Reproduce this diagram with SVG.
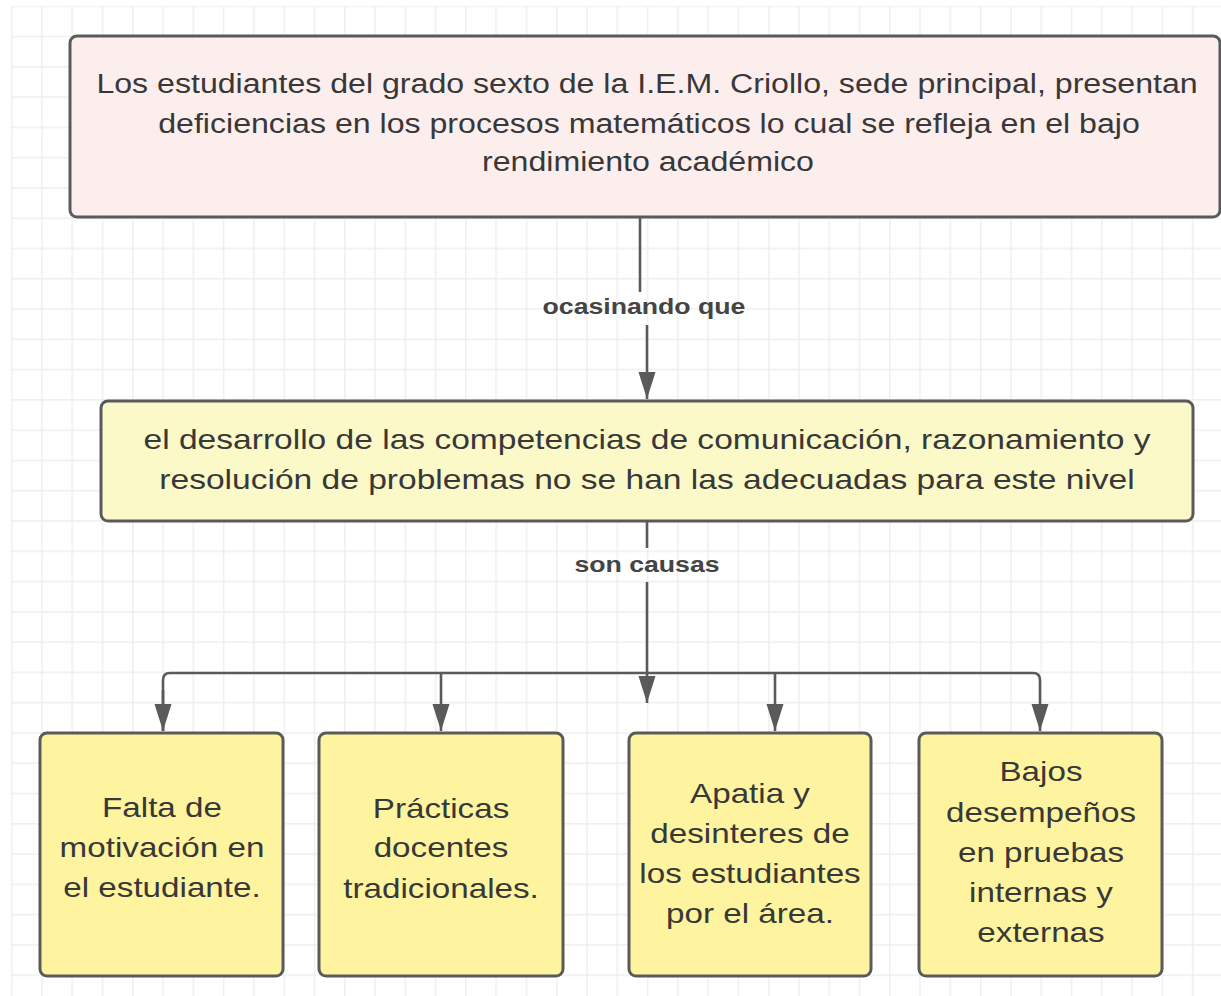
<svg xmlns="http://www.w3.org/2000/svg" width="1221" height="996" viewBox="0 0 1221 996">
  <style>
    .box { stroke: #5a5a5a; stroke-width: 3; }
    .top { fill: #fdeeee; }
    .mid { fill: #fbf9c8; }
    .leaf { fill: #fef49f; }
    .t { font-family: "Liberation Sans", Arial, sans-serif; fill: #383838; text-anchor: middle; }
    .t27 { font-size: 27px; }
    .t28 { font-size: 28.2px; }
    .tb { font-size: 27.9px; }
    .lbl { font-family: "Liberation Sans", Arial, sans-serif; font-weight: bold; font-size: 22.4px; fill: #444; text-anchor: middle; }
    .conn { fill: none; stroke: #5a5a5a; stroke-width: 2.6; }
  </style>
  <defs>
    <pattern id="grid" x="10.9" y="5.4" width="30.28" height="30.28" patternUnits="userSpaceOnUse">
      <path d="M 0.8 0 V 30.28 M 0 0.8 H 30.28" stroke="#ececec" stroke-width="1.3" fill="none"/>
    </pattern>
    <marker id="arrow" markerUnits="userSpaceOnUse" markerWidth="28" markerHeight="18" refX="27" refY="8.5" orient="auto">
      <path d="M 0 0 L 27 8.5 L 0 17 Z" fill="#5a5a5a"/>
    </marker>
  </defs>

  <rect x="0" y="0" width="1221" height="996" fill="#ffffff"/>
  <rect x="11" y="6" width="1210" height="990" fill="url(#grid)"/>

  <g id="connectors">
    <line class="conn" x1="640" y1="218" x2="640" y2="292"/>
    <line class="conn" x1="647" y1="325" x2="647" y2="399" marker-end="url(#arrow)"/>
    <text class="lbl" transform="translate(644 0) scale(1.19 1)" x="0" y="314">ocasinando que</text>

    <line class="conn" x1="647" y1="522" x2="647" y2="548"/>
    <text class="lbl" transform="translate(647 0) scale(1.19 1)" x="0" y="572">son causas</text>
    <line class="conn" x1="647" y1="582" x2="647" y2="703" marker-end="url(#arrow)"/>

    <path class="conn" d="M 163 731 V 680 Q 163 673 170 673 H 1033 Q 1040 673 1040 680 V 731" marker-end="url(#arrow)"/>
    <line class="conn" x1="163" y1="690" x2="163" y2="731" marker-end="url(#arrow)"/>
    <line class="conn" x1="441" y1="673" x2="441" y2="731" marker-end="url(#arrow)"/>
    <line class="conn" x1="775" y1="673" x2="775" y2="731" marker-end="url(#arrow)"/>
  </g>

  <g id="problema">
    <rect class="box top" x="70" y="36" width="1150" height="181" rx="7"/>
    <g class="t t27">
      <text transform="translate(647 0) scale(1.19 1)" x="0" y="93">Los estudiantes del grado sexto de la I.E.M. Criollo, sede principal, presentan</text>
      <text transform="translate(649 0) scale(1.19 1)" x="0" y="133">deficiencias en los procesos matemáticos lo cual se refleja en el bajo</text>
      <text transform="translate(648 0) scale(1.19 1)" x="0" y="171">rendimiento académico</text>
    </g>
  </g>

  <g id="desarrollo">
    <rect class="box mid" x="101" y="401" width="1092" height="120" rx="7"/>
    <g class="t t28">
      <text transform="translate(647 0) scale(1.19 1)" x="0" y="449">el desarrollo de las competencias de comunicación, razonamiento y</text>
      <text transform="translate(647 0) scale(1.19 1)" x="0" y="489">resolución de problemas no se han las adecuadas para este nivel</text>
    </g>
  </g>

  <g id="causa1">
    <rect class="box leaf" x="40" y="733" width="243" height="243" rx="7"/>
    <g class="t tb" transform="translate(162 0) scale(1.19 1)">
      <text x="0" y="817">Falta de</text>
      <text x="0" y="857">motivación en</text>
      <text x="0" y="897">el estudiante.</text>
    </g>
  </g>

  <g id="causa2">
    <rect class="box leaf" x="319" y="733" width="244" height="243" rx="7"/>
    <g class="t tb" transform="translate(441 0) scale(1.19 1)">
      <text x="0" y="818">Prácticas</text>
      <text x="0" y="857">docentes</text>
      <text x="0" y="898">tradicionales.</text>
    </g>
  </g>

  <g id="causa3">
    <rect class="box leaf" x="629" y="733" width="242" height="243" rx="7"/>
    <g class="t tb" transform="translate(750 0) scale(1.19 1)">
      <text x="0" y="803">Apatia y</text>
      <text x="0" y="843">desinteres de</text>
      <text x="0" y="883">los estudiantes</text>
      <text x="0" y="923">por el área.</text>
    </g>
  </g>

  <g id="causa4">
    <rect class="box leaf" x="919" y="733" width="243" height="243" rx="7"/>
    <g class="t tb" transform="translate(1041 0) scale(1.19 1)">
      <text x="0" y="781">Bajos</text>
      <text x="0" y="822">desempeños</text>
      <text x="0" y="862">en pruebas</text>
      <text x="0" y="902">internas y</text>
      <text x="0" y="942">externas</text>
    </g>
  </g>
</svg>
